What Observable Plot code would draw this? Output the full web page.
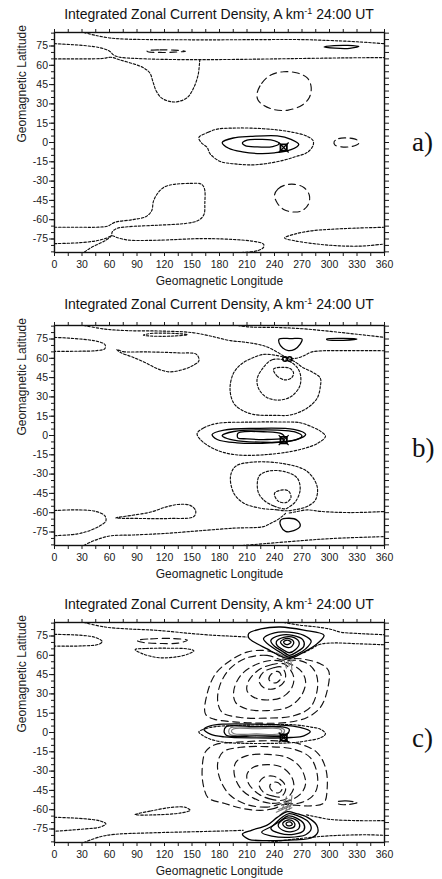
<!DOCTYPE html>
<html><head><meta charset="utf-8">
<script src="https://cdn.jsdelivr.net/npm/d3@7"></script>
<script src="https://cdn.jsdelivr.net/npm/@observablehq/plot@0.6"></script>
<style>
body{margin:0;background:#fff;}
#wrap{position:relative;width:442px;height:879px;overflow:hidden;font-family:"Liberation Sans",Arial,sans-serif;color:#1a1a1a;}
.title{position:absolute;left:0;width:438px;text-align:center;font-size:14px;line-height:14px;white-space:nowrap;color:#111;}
.title .sup{font-size:9px;position:relative;top:-5px;}
.tag{position:absolute;left:412px;font-family:"Liberation Serif","Times New Roman",serif;font-size:27px;line-height:27px;color:#111;}
.panel{position:absolute;left:0;}
</style></head>
<body><div id="wrap"></div>
<script>
// ---------- axes / text ----------
const xTickValues = [0,15,30,45,60,75,90,105,120,135,150,165,180,195,210,225,240,255,270,285,300,315,330,345,360];
const xTickLabels = [0,30,60,90,120,150,180,210,240,270,300,330,360];
const yTickValues = [-85,-80,-75,-70,-65,-60,-55,-50,-45,-40,-35,-30,-25,-20,-15,-10,-5,0,5,10,15,20,25,30,35,40,45,50,55,60,65,70,75,80,85];
const yTickLabels = [-75,-60,-45,-30,-15,0,15,30,45,60,75];
const titleParts = ["Integrated Zonal Current Density, A km", "-1", " 24:00 UT"];
const panelTags = ["a)", "b)", "c)"];
const xLabel = "Geomagnetic Longitude";
const yLabel = "Geomagnetic Latitude";

// ---------- panel a contours [lon, lat] ----------
const aDotLines = [
  [[32,85.5],[45,83.2],[61,81.2],[80,80.3],[105,80],[170,79.8],[230,80],[268,80],[300,79.3],[330,78.3],[360,76.8]],
  [[0,76.8],[30,75.5],[50,73.6],[60,71],[65,67.8],[72,66.2],[90,65.3],[120,64.6],[160,64.4],[200,64.6],[260,65.2],[320,65.8],[360,66]],
  [[0,65],[30,65],[52,65.3],[62,66.2],[70,64.5],[82,62],[96,58.5],[104,54],[107.5,47],[111,40],[117,34.5],[127,31.7],[136,32],[145,35],[151.5,42],[156.5,52],[158,60],[158.5,64.4]],
  [[0,-65.9],[30,-65.9],[48,-65.8],[58,-65],[66,-62],[85,-60],[100,-57.5],[106,-53],[108,-45.6],[113,-39],[120,-34.5],[130,-32.6],[148,-31.8],[160,-32.3],[163.6,-36],[164,-47],[163,-56],[157,-60.5],[144,-62.8],[112,-64.3],[80,-65.5],[68,-66.8],[63,-69.5],[62,-72.5],[56,-76],[46,-79.5],[38,-82.5],[32,-85.5]],
  [[0,-78.6],[25,-78],[45,-76.5],[56,-74.5],[63,-72.5],[68,-73.8],[80,-75.8],[110,-76],[160,-74.7],[190,-75.2],[217,-76.8],[228,-79],[228,-81.5],[222,-84],[204,-85.5]],
  [[360,-65.9],[330,-66.5],[300,-67.5],[280,-68.7],[262,-71.2],[251,-74.2],[262,-76.4],[285,-78.8],[310,-80.3],[335,-80.5],[360,-78.9]]
];
const aDotLoops = [
  [[157.5,3.9],[168,8],[177.5,10.4],[195,11.2],[214,11.2],[240,10],[261,7.8],[275,5],[282,1.5],[282,-2.5],[275.6,-7.8],[263,-11],[250,-13.8],[230,-16.5],[214,-17.4],[195,-16.5],[181,-14.8],[170,-9],[166.5,-3.9],[160,0]]
];
const aDashLoops = [
  [[101,71.2],[115,72],[130,71.8],[143,71],[130,70.2],[115,70],[102,70.5]],
  [[221,38],[226,46],[236,52.5],[250,55],[265,54],[276,50],[280,43],[278,35],[270,29],[255,25.2],[240,25.5],[228,29],[222,33]],
  [[305,0.5],[310,3],[320,3.5],[330,2],[332,-0.5],[325,-3],[313,-3.4],[306,-2]],
  [[240,-41],[244,-36],[252,-33],[262,-32.5],[272,-35],[278,-41],[277,-48],[270,-53],[260,-54],[250,-52],[243,-47]]
];
const aSolidLoops = [
  [[183,0],[195,3.5],[214,4.7],[243,5.2],[258,2.5],[266.5,-1.5],[258,-5.5],[240,-8],[225,-8.6],[205,-7.3],[190,-4.5]],
  [[205,-0.5],[210,1.8],[221,2.4],[236,2],[245,-0.8],[238,-3.2],[220,-3.4],[208,-2.4]],
  [[294,74.3],[305,75.3],[320,75.5],[332,74.7],[322,73.2],[306,73.3]]
];
const aMarkers = [[250,-3.9]];

// ---------- panel b contours ----------
const bDotLines = [
  [[32,85.5],[55,82.7],[80,81.5],[115,81.2],[150,80],[172,77],[192,73.7],[206,72.7],[221,71],[232,68.8],[243,64.8],[250,61.7],[254,59.8]],
  [[200,85.5],[214,84.3],[240,84],[270,83],[300,81],[330,78.7],[360,76.3]],
  [[258,59.6],[265,60.2],[272,62],[280,64.8],[292,65.8],[320,66],[360,65.9]],
  [[0,76.3],[28,75],[46,73.3],[55,70.7],[55,67.5],[46,66],[25,65.5],[0,65.4]],
  [[0,-58.3],[25,-57.8],[45,-59],[55,-62.5],[56,-66.5],[50,-70],[40,-73.5],[25,-76.5],[0,-77.9]],
  [[32,-85.5],[42,-82],[50,-80],[61,-78],[86.5,-77.3],[123,-76],[159,-74],[195.6,-72],[228,-70.8],[236,-68.2],[243,-65.6],[249,-62.5],[252,-60.5]],
  [[256,-60.2],[262,-59.5],[275.6,-57.8],[290,-59],[323,-59.9],[360,-59.1]],
  [[205,-85.5],[232,-83.9],[268,-81.8],[304.7,-80],[360,-78.6]]
];
const bDotLoops = [
  [[155.6,1.6],[163,6],[177.5,9.4],[214,10.4],[245,10.5],[268,9.9],[283,6],[290,3.4],[295.6,-0.5],[288,-5.7],[268,-10.9],[232,-14.8],[195.6,-14.8],[174,-10.4],[159,-3.1]],
  [[254,60],[240,62.5],[228,63],[215,60],[203,55],[195,48],[191.5,36],[195.6,25],[205,19.5],[217,16.4],[242,15.6],[257.5,16],[275,21],[286.5,29],[290,38],[290,44.5],[281.5,49.2],[270.5,53],[263,57]],
  [[253,58.5],[237.5,58.9],[226.5,51.6],[221,43.8],[223,36],[232,29.4],[246.5,27.6],[259,30.7],[267.6,38.5],[268.4,46.9],[264.7,52.9],[258,57]],
  [[239,51.6],[242.6,46.4],[251.6,43.2],[258.9,45],[260.7,48.9],[257,52],[250,53]],
  [[252,-58.5],[243,-57.8],[224.7,-56.5],[206.5,-52.6],[195.6,-44.8],[192,-31.8],[197.5,-24],[214,-20.8],[250,-21.9],[275.6,-27.9],[286.5,-39.6],[284.7,-50],[275.6,-55.2],[260,-58]],
  [[252,-57],[239,-54.7],[228,-50],[222,-43.5],[223,-31.8],[232,-27.9],[250,-27.9],[264.7,-33],[268,-42],[263,-51.3],[256,-55.5]],
  [[240,-45],[247,-42.5],[255,-43],[258,-48],[253,-52],[244,-51]],
  [[97,78],[105,79.3],[130,79.4],[145,78.4],[130,77.3],[105,77.3]],
  [[68,66.8],[75,65.2],[100,65],[135,64.2],[155,63],[157.5,58],[150,54],[139,51],[125,49.5],[112,52],[98,57],[85,61],[72,64.5]],
  [[67,-64],[85,-62],[105,-59.5],[122,-55.5],[135,-53.6],[148,-54.3],[154,-58.5],[152,-63],[125,-64.5],[95,-64.5]]
];
const bSolidLoops = [
  [[172,0.8],[185,4.2],[217,5.5],[261,4.7],[274,0.8],[265,-3.1],[235.6,-5.7],[199,-5.7],[177.5,-3.1]],
  [[183,0],[195.6,3.1],[232,4.4],[263,2.6],[270,-0.5],[257.5,-4.4],[224.7,-5.2],[195.6,-3.6],[184,-1]],
  [[200,1.6],[203,2.6],[228,2.9],[248,1.3],[251,-1.8],[232,-3.1],[210,-2.6],[200,-1.8]],
  [[297,75],[315,75.5],[330,75],[315,74],[297,74.5]],
  [[245,75],[258,75.3],[270,75],[268,71],[262,67],[255,66],[249,68],[245,72]],
  [[246.5,-66],[256,-64.3],[265,-66],[268,-70.5],[261,-74],[252,-74.5],[247,-70.5]]
];
const bMarkers = [[250,-3.6]];
const bRings = [[251.5,59.5],[256.5,59.5]];

// ---------- panel c contours ----------
const cDotLines = [
  [[32,85.5],[55,82],[80,80.5],[110,79.5],[148,77],[175,75.5],[195,74.8],[210,74.2]],
  [[250,85.5],[268,83.4],[286.5,82],[301,80.3],[312,78],[330,77],[360,76]],
  [[272,62],[280,65],[290,68.6],[305,69.6],[330,69],[360,68.2]],
  [[0,76.3],[30,75.5],[45,73.8],[52,70.7],[48,68.5],[30,67.3],[0,67.2]],
  [[0,-65.9],[32,-67],[50,-68.8],[56,-71],[50,-73.5],[32,-75],[0,-76.8]],
  [[32,-85.5],[50,-81],[65,-79.2],[105,-78],[160,-77],[195,-76.3],[206,-76]],
  [[232,-85.5],[260,-83],[300,-80.3],[340,-79.5],[360,-79.9]],
  [[275,-64],[285,-65.5],[300,-67.5],[330,-68.5],[360,-68.5]]
];
const cDotLoops = [
  [[157.5,0.5],[165,3],[176,4.6],[200,5.5],[230,6],[261,6],[280,4.2],[290,2.6],[295.6,-1],[290,-4.2],[275,-6.5],[261,-7.8],[232,-8.5],[200,-8.3],[185,-7.6],[170,-5.2],[161,-2]],
  [[88,64.5],[100,65.3],[125,65.5],[145,65],[152,63.5],[146,61],[130,58.5],[112,58.3],[95,61.5]],
  [[88,-63.8],[105,-61],[130,-58],[143,-58.2],[148,-60.5],[138,-62.5],[110,-64]]
];
const cDashLoops = [
  [[250,57],[240,62],[228,63.8],[210,62.5],[192,56],[175.6,45.6],[166.5,30],[164.7,14.3],[174,10.4],[195.6,8.3],[224.7,7.3],[253.8,7.8],[275.6,11.7],[290,19.5],[297.5,32.6],[299,48],[290,53.4],[272,57],[260,57.5]],
  [[250,56],[232,59.9],[210,58],[192,50],[181,37.8],[178,24.7],[183,15.6],[203,11.7],[232,11.2],[261,13],[279,19.5],[286.5,32.6],[286,44.3],[279,52],[266.5,56]],
  [[250,55],[235.6,56],[217.5,52],[203,44.3],[195.6,32.6],[197.5,23.4],[210,18.2],[232,17],[254,19.5],[268,27.3],[274,39],[270,46.9],[261,52]],
  [[250,53.5],[237.5,52.9],[223,48.7],[212,40.4],[210,32.6],[217.5,27.3],[232,25.3],[248,27.3],[259,35],[261,43],[256,50]],
  [[247,51],[239,50.3],[228,46.9],[223,40.4],[228,35],[239,33.9],[250,39],[252,45.6]],
  [[243,47.5],[236,45],[234,41],[240,38.5],[246,41],[247,45]],
  [[250,-56],[240,-59],[225,-60.5],[205,-59],[185,-55],[168,-51],[163,-43],[161,-30],[164.7,-15],[175,-9.5],[200,-7.5],[243,-6.5],[268,-9],[286.5,-15.6],[295.6,-27.3],[297.5,-43],[293.8,-54.7],[280,-57],[262,-56.5]],
  [[250,-55],[232,-58],[210,-56],[192,-49],[181,-37],[178,-24],[184,-15],[203,-11.5],[232,-11],[261,-13],[279,-19.5],[286.5,-32],[286,-44],[279,-51],[266,-55]],
  [[250,-54],[235,-55],[217,-51],[203,-43.5],[196,-32],[198,-23],[210,-18],[232,-17],[254,-19.5],[268,-27],[274,-39],[270,-46.5],[261,-51.5]],
  [[250,-52.5],[237,-52],[223,-48],[212,-40],[210,-32.5],[217,-27],[232,-25],[248,-27],[259,-35],[261,-43],[256,-49.5]],
  [[247,-50],[239,-49.5],[228,-46.5],[223,-40],[228,-35],[239,-34],[250,-39],[252,-45]],
  [[244,-47],[237,-45],[235,-41],[241,-38.5],[247,-41],[248,-44.5]],
  [[90,71.5],[105,72.8],[130,73],[145,71.8],[135,69.5],[115,69.2],[97,70]],
  [[308,-54],[318,-53.2],[330,-54.5],[320,-56],[310,-55.6]]
];
const cSolidLoops = [
  [[212,77],[225,80.5],[246.5,82],[272,79.5],[294,75.5],[286.5,69],[272,62.5],[256,57.5],[242,61],[232,65],[221,69],[212,73.5]],
  [[228,73],[240,77.5],[256,78],[272,75.5],[280,71],[274,65],[264,60.5],[256,58.5],[247,62],[236,67]],
  [[236,71.5],[246,75.5],[260,75.5],[271,72],[272,67],[264,62.5],[256,60],[248,63.5],[240,67]],
  [[242,70.5],[250,74],[262,73.5],[267,69.5],[263,64.5],[256,62],[249,64.5],[243,67.5]],
  [[246.5,70.3],[250,72.5],[256,73],[261,70.3],[258,66.5],[252,66.5]],
  [[250,70.5],[254,71.8],[258,70.3],[255,68.5],[251,69]],
  [[205,-79],[215,-76],[232,-72],[243,-66],[254,-61.5],[264,-63],[276,-66],[286,-72],[287,-78],[280,-82],[262,-83.5],[235,-84],[212,-83]],
  [[226,-77.5],[238,-72.5],[248,-66],[256,-63],[266,-65],[277,-69.5],[280,-75],[274,-79.5],[256,-81.5],[237,-80.5]],
  [[236,-74.5],[246,-69],[255,-64.8],[264,-66.5],[272,-71],[272,-76],[262,-79],[246,-78.5]],
  [[244,-72],[251,-67],[258,-66.5],[266,-69.5],[267,-74],[259,-77],[249,-76]],
  [[249,-70.5],[255,-68],[261,-69.5],[262,-72.8],[257,-74.5],[251,-73.3]],
  [[253,-70.3],[257,-69.5],[259.5,-71.3],[256.5,-72.5],[253,-71.8]],
  [[163,2.6],[170,5.2],[185,6.5],[220,6.5],[246.5,5.8],[268,3.9],[279,0.8],[272,-2.6],[257.5,-3.9],[220,-4.2],[185,-3.4],[170,-1.3]],
  [[185,1],[187,4.4],[220,4.6],[248,4.4],[256,2.5],[254,-1],[249,-2.6],[220,-2.7],[189,-2.6],[186,-1]]
];
const cGreyLoops = [
  [[190,1],[192,3.6],[220,3.7],[247,3.6],[251,1.5],[247,-1.8],[220,-1.9],[192,-1.8]],
  [[193,1],[195,2.8],[220,2.9],[245,2.9],[248,1],[245,-1],[220,-1.1],[196,-1]]
];
const cGreyLines = [
  [[242,62],[250,59.5],[258,57]],
  [[244,60],[252,57.8],[260,55.5]],
  [[246,64],[252,61],[259,58.5]],
  [[252,62],[254,57],[256,52]],
  [[248,60],[251,55],[253,50]],
  [[256,60],[258,55],[259,49]],
  [[242,-62],[250,-59.5],[258,-57]],
  [[244,-60],[252,-57.8],[260,-55.5]],
  [[246,-64],[252,-61],[259,-58.5]],
  [[252,-62],[254,-57],[256,-52]],
  [[248,-60],[251,-55],[253,-50]],
  [[256,-60],[258,-55],[259,-49]]
];
const cMarkers = [[250,-3.9]];

// ---------- drawing ----------
function flat(list){
  const out = [];
  list.forEach((pts, i) => pts.forEach(([x, y]) => out.push({x, y, id: i})));
  return out;
}
const DOT = {stroke: "#111", strokeWidth: 1.15, strokeDasharray: "2.4,1.8"};
const DASH = {stroke: "#111", strokeWidth: 1.15, strokeDasharray: "7,4.5"};
const SOLID = {stroke: "#000", strokeWidth: 1.3};
const GREY = {stroke: "#777", strokeWidth: 1.1};

function lines(list, closed, style){
  return Plot.line(flat(list || []), {x: "x", y: "y", z: "id", clip: true,
    curve: closed ? "catmull-rom-closed" : "catmull-rom", ...style});
}

function makePanel(d){
  const MT = 12, MB = 48, IH = 220;
  const marks = [
    lines(d.dotLines, false, DOT),
    lines(d.dotLoops, true, DOT),
    lines(d.dashLoops, true, DASH),
    lines(d.greyLoops, true, GREY),
    lines(d.greyLines, false, GREY),
    lines(d.solidLoops, true, SOLID),
    Plot.dot(d.markers, {x: p => p[0], y: p => p[1], symbol: "square", r: 3.6, stroke: "#000", strokeWidth: 1.8, fill: "none"}),
    Plot.dot(d.markers, {x: p => p[0], y: p => p[1], symbol: "times", r: 4.6, stroke: "#000", strokeWidth: 1.2}),
    Plot.dot(d.rings || [], {x: p => p[0], y: p => p[1], r: 2.3, stroke: "#000", strokeWidth: 1.5, fill: "none"}),
    Plot.frame({stroke: "#111", strokeWidth: 1.4}),
    Plot.axisX({anchor: "bottom", ticks: xTickValues, tickSize: 4, tickPadding: 4, label: null,
      tickFormat: v => xTickLabels.includes(v) ? String(v) : ""}),
    Plot.axisX({anchor: "top", ticks: xTickValues, tickSize: 4, label: null, tickFormat: () => ""}),
    Plot.axisY({anchor: "left", ticks: yTickValues, tickSize: 3, label: null, tickFormat: () => ""}),
    Plot.axisY({anchor: "left", ticks: yTickLabels, tickSize: 5, tickPadding: 1.5, label: null, tickFormat: v => String(v)}),
    Plot.axisY({anchor: "right", ticks: yTickValues, tickSize: 4, label: null, tickFormat: () => ""}),
    Plot.text([xLabel], {frameAnchor: "bottom", dy: 32, fontSize: 12, fill: "#1a1a1a"}),
    Plot.text([yLabel], {frameAnchor: "left", rotate: -90, dx: -32, fontSize: 12, fill: "#1a1a1a"})
  ];
  const svg = Plot.plot({
    width: 442, height: MT + IH + MB,
    marginLeft: 54, marginRight: 58, marginTop: MT, marginBottom: MB,
    x: {domain: [0, 360]},
    y: {domain: [-85.5, 85.5]},
    style: {fontFamily: "'Liberation Sans', Arial, sans-serif", fontSize: "10.5px", color: "#1a1a1a", background: "transparent"},
    marks
  });
  svg.classList.add("panel");
  svg.style.top = (d.frameTop - MT) + "px";
  return svg;
}

const wrap = document.getElementById("wrap");
const layout = [
  {frameTop: 32, titleTop: 7, tagTop: 129,
   dotLines: aDotLines, dotLoops: aDotLoops, dashLoops: aDashLoops, solidLoops: aSolidLoops, markers: aMarkers},
  {frameTop: 325, titleTop: 297, tagTop: 435,
   dotLines: bDotLines, dotLoops: bDotLoops, solidLoops: bSolidLoops, markers: bMarkers, rings: bRings},
  {frameTop: 622, titleTop: 597, tagTop: 725,
   dotLines: cDotLines, dotLoops: cDotLoops, dashLoops: cDashLoops, solidLoops: cSolidLoops, greyLoops: cGreyLoops, greyLines: cGreyLines, markers: cMarkers}
];
layout.forEach((d, i) => {
  wrap.appendChild(makePanel(d));
  const t = document.createElement("div");
  t.className = "title";
  t.style.top = d.titleTop + "px";
  t.innerHTML = titleParts[0] + '<span class="sup">' + titleParts[1] + '</span>' + titleParts[2];
  wrap.appendChild(t);
  const g = document.createElement("div");
  g.className = "tag";
  g.style.top = d.tagTop + "px";
  g.textContent = panelTags[i];
  wrap.appendChild(g);
});
</script>
</body></html>
